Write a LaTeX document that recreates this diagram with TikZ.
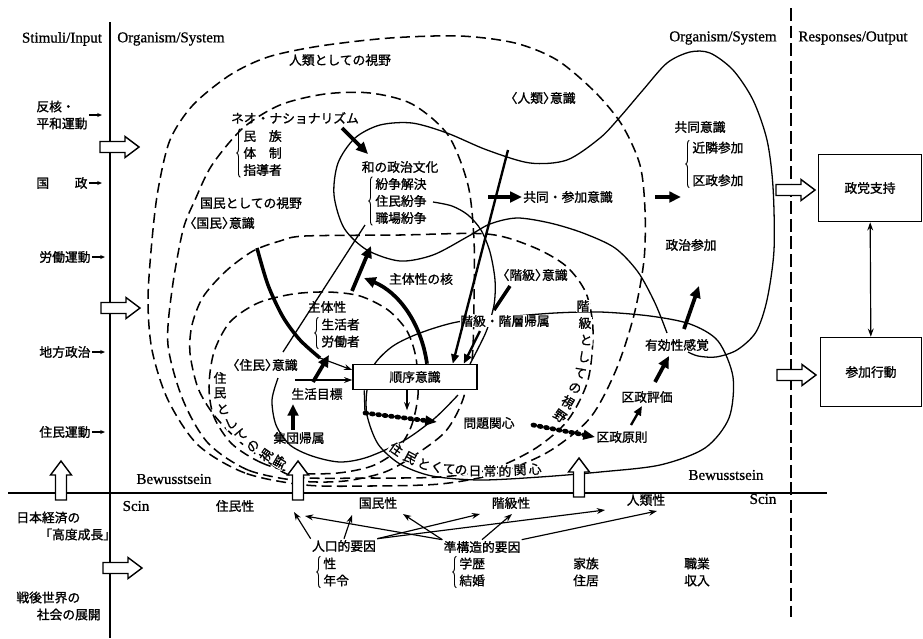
\documentclass[tikz,border=0pt]{standalone}
\usepackage{fontspec}
\setmainfont{Liberation Serif}
\newfontfamily\jp[FakeBold=1.2]{Noto Sans CJK JP}
\newfontfamily\enfont[FakeBold=0.8]{Liberation Serif}
\usetikzlibrary{arrows.meta, calc, decorations.pathreplacing}

\newcommand\jpf{\jp\fontsize{10.9}{14.5}\selectfont}
\newcommand\enf{\enfont\fontsize{12.8}{15}\selectfont}
% narrow brackets
\newcommand\ab[1]{\makebox[0.55em][r]{〈}#1\makebox[0.55em][l]{〉}}
\newcommand\kg[1]{\makebox[0.5em][r]{「}#1\makebox[0.5em][l]{」}}

\begin{document}
\begin{tikzpicture}[
	x=0.03cm, y=-0.03cm,
	lbl/.style={font=\jpf, inner sep=1pt},
	wlbl/.style={lbl, fill=white, inner sep=0.3pt},
	en/.style={font=\enf, inner sep=1pt},
	box/.style={draw, line width=1.3pt, fill=white, font=\jpf},
	brc/.style={decorate, decoration={brace, amplitude=3pt}, line width=0.8pt},
	curve/.style={line width=1.1pt},
	dcurve/.style={line width=1.3pt, dash pattern=on 8.5pt off 4.5pt},
	axis/.style={line width=1.6pt},
	sepline/.style={line width=2.4pt, dash pattern=on 11pt off 4pt},
	bigarrow/.style={line width=3.2pt, -{Triangle[length=10pt,width=9pt]}},
	midarrow/.style={line width=2pt, -{Triangle[length=8pt,width=6.5pt]}},
	thinarrow/.style={line width=1pt, -{Stealth[length=7pt,width=5pt]}},
	stimarrow/.style={line width=0.9pt, -{Stealth[length=4pt,width=3.5pt]}},
	dotarrow/.style={line width=4pt, line cap=round, dash pattern=on 1.5pt off 4pt, -{Triangle[length=10pt,width=8pt]}},
	hollow/.pic={
		\draw[line width=1.2pt, fill=white] (0,-5.5) -- (25,-5.5) -- (25,-10.5) -- (39,0)
			-- (25,10.5) -- (25,5.5) -- (0,5.5) -- cycle;
	}
	]
	\useasboundingbox (0,0) rectangle (923,638);

	% axes
	\coordinate (axtop) at (110,22);
	\coordinate (axbot) at (110,638);
	\coordinate (hleft) at (8,493);
	\coordinate (hright) at (827,493);
	\coordinate (septop) at (791,8);
	\coordinate (sepbot) at (791,617);
	\draw[axis] (axtop) -- (axbot);
	\draw[axis] (hleft) -- (hright);
	\draw[sepline] (septop) -- (sepbot);

	\node[en] (stimuli) at (62,39) {Stimuli/Input};
	\node[en] (orgleft) at (171,39) {Organism/System};
	\node[en] (orgright) at (723,38) {Organism/System};
	\node[en] (responses) at (853,38) {Responses/Output};
	\node[en] (bewleft) at (174,479) {Bewusstsein};
	\node[en] (scinleft) at (136,506) {Scin};
	\node[en] (bewright) at (726,475) {Bewusstsein};
	\node[en] (scinright) at (763,499) {Scin};

	% stimuli
	\node[lbl, anchor=west, align=left] (hankaku) at (35,115) {反核・\\平和運動};
	\node[lbl, anchor=west] (kokusei) at (35,183) {国　　政};
	\node[lbl, anchor=west] (rodo) at (38,257) {労働運動};
	\node[lbl, anchor=west] (chiho) at (38,352) {地方政治};
	\node[lbl, anchor=west] (juminundo) at (38,432) {住民運動};
	\node[lbl, anchor=west, align=left] (keizai) at (15,526) {日本経済の\\\hspace*{2.3em}\kg{高度成長}};
	\node[lbl, anchor=west, align=left] (sengo) at (15,606) {戦後世界の\\\hspace*{1.6em}社会の展開};
	\foreach \n in {hankaku, kokusei, rodo, chiho, juminundo}
		\draw[stimarrow] (\n.east) -- ++(13,0);

	% dashed fields of view
	\draw[dcurve] plot[smooth cycle] coordinates {(305,485) (245,473) (198,445) (168,400) (152,350) (148,300) (152,240) (158,190) (170,140) (193,105) (230,75) (268,57) (320,46) (390,38) (460,36) (515,43) (557,60) (595,92) (622,125) (640,165) (645,210) (644,260) (634,315) (616,370) (590,418) (548,452) (495,474) (440,484) (370,486)};
	\draw[dcurve] plot[smooth cycle] coordinates {(300,481) (248,470) (208,443) (183,400) (168,345) (172,290) (183,230) (195,200) (212,165) (243,128) (280,105) (325,94) (370,93) (412,104) (448,135) (468,185) (474,240) (474,300) (472,360) (462,402) (445,432) (415,455) (385,472) (345,481)};
	\draw[dcurve] plot[smooth cycle] coordinates {(297,477) (268,462) (240,442) (214,415) (198,388) (190,353) (192,325) (203,297) (226,271) (253,251) (280,241) (305,236) (400,235) (487,234) (533,247) (566,266) (586,293) (593,330) (588,380) (568,420) (536,448) (492,469) (440,477) (370,478)};
	\draw[dcurve] plot[smooth cycle] coordinates {(298,473) (262,463) (232,444) (214,417) (209,387) (214,352) (230,322) (258,303) (293,294) (328,292) (360,296) (388,310) (407,331) (416,358) (418,395) (411,427) (396,451) (372,466) (338,473)};

	% solid fields
	\draw[curve] plot[smooth] coordinates {(667,333) (655,303) (638,272) (615,248) (583,233) (550,223) (517,218) (490,224) (467,237) (433,255) (400,261) (367,250) (344,228) (334,195) (338,163) (355,138) (380,125) (412,123) (447,133) (487,150) (530,163) (567,160) (600,138) (620,117) (643,90) (667,63) (690,52) (710,53) (733,70) (753,100) (767,140) (773,187) (774,250) (767,300) (756,332) (737,350) (716,357) (698,356) (688,352)};
	\draw[curve] plot[smooth cycle] coordinates {(555,313) (600,312) (650,316) (690,324) (718,341) (733,377) (729,418) (705,448) (660,465) (600,472) (540,477) (480,480) (432,476) (400,464) (378,444) (367,415) (367,390) (374,365) (393,346) (420,333) (457,322) (505,317)};
	\draw[curve] plot[smooth] coordinates {(278,378) (272,400) (276,425) (290,445) (312,456) (340,462) (368,457) (405,440) (435,418) (458,395)};
	\draw[curve] plot[smooth] coordinates {(433,202) (452,206) (468,215) (481,230) (490,252) (495,280) (494,305) (486,332) (470,364)};
	\coordinate (tla) at (283,352);
	\coordinate (tlb) at (365,225);
	\draw[curve] (tla) -- (tlb);
	\draw[line width=3pt] plot[smooth] coordinates {(257,248) (268,285) (283,317) (300,340) (320,358)};

	% labels
	\node[lbl] (jinruiview) at (340,60) {人類としての視野};
	\node[lbl] (neo) at (295,118) {ネオ・ナショナリズム};
	\node[lbl, anchor=west, align=left] (minzoku) at (242,153) {民　族\\体　制\\指導者};
	\node[lbl] (kokuminview) at (251,203) {国民としての視野};
	\node[lbl] (kokuminishiki) at (222,223) {\ab{国民}意識};
	\node[lbl] (wa) at (400,167) {和の政治文化};
	\node[lbl, anchor=west, align=left] (funso) at (374,201) {紛争解決\\住民紛争\\職場紛争};
	\node[lbl] (jinruiishiki) at (543,98) {\ab{人類}意識};
	\node[lbl] (kyodosanka) at (568,197) {共同・参加意識};
	\node[lbl] (kaikyuishiki) at (535,275) {\ab{階級}意識};
	\node[lbl] (kaku) at (421,279) {主体性の核};
	\node[lbl] (kyodo) at (700,127) {共同意識};
	\node[lbl, anchor=west, align=left] (kinrin) at (691,164) {近隣参加\\[13.5pt]区政参加};
	\node[lbl] (seijisanka) at (691,245) {政治参加};
	\node[lbl] (yuko) at (677,345) {有効性感覚};
	\node[lbl] (hyoka) at (647,397) {区政評価};
	\node[lbl] (gensoku) at (622,437) {区政原則};
	\node[lbl] (mondai) at (489,423) {問題関心};
	\node[lbl] (shutaisei) at (327,307) {主体性};
	\node[lbl, anchor=west, align=left] (seikatsusha) at (320,333) {生活者\\労働者};
	\node[lbl] (juminishiki) at (265,365) {\ab{住民}意識};
	\node[lbl] (mokuhyo) at (317,394) {生活目標};
	\node[lbl] (shudan) at (299,438) {集団帰属};
	\node[wlbl] (kaikyukizoku) at (505,321) {階級・階層帰属};

	\foreach \c/\x/\y/\r [count=\i] in {住/220/378/0, 民/220/393/0, と/223/409/10, し/231/423/25, て/241/435/35, の/253/446/50, 視/266/455/55, 野/280/462/60}
		\node[wlbl, rotate=\r] (jv\i) at (\x,\y) {\c};
	\foreach \c/\x/\y/\r [count=\i] in {階/583/306/0, 級/585/323/0, と/586/340/-3, し/584/357/-8, て/580/373/-15, の/575/388/-22, 視/568/402/-30, 野/560/416/-35}
		\node[wlbl, rotate=\r] (kv\i) at (\x,\y) {\c};
	\foreach \c/\x/\y/\r [count=\i] in {住/396/449/-35, 民/410/458/-28, と/424/464/-20, く/437/467/-12, て/449/469/-6, の/461/470/-2, 日/475/471/0, 常/490/471/0, 的/505/471/0, 関/520/470/3, 心/535/469/5}
		\node[wlbl, rotate=\r] (nv\i) at (\x,\y) {\c};

	% bottom: factors
	\node[lbl] (juminsei) at (235,506) {住民性};
	\node[lbl] (kokuminsei) at (378,503) {国民性};
	\node[lbl] (kaikyusei) at (511,503) {階級性};
	\node[lbl] (jinruisei) at (646,500) {人類性};
	\node[lbl] (jinko) at (344,546) {人口的要因};
	\node[lbl] (junkozo) at (482,547) {準構造的要因};
	\node[lbl, anchor=west, align=left] (sei) at (322,572) {性\\年令};
	\node[lbl, anchor=west, align=left] (gakureki) at (458,572) {学歴\\結婚};
	\node[lbl, align=left] (kazoku) at (586,572) {家族\\住居};
	\node[lbl, align=left] (shokugyo) at (697,572) {職業\\収入};

	% braces
	\foreach \n in {minzoku, funso, kinrin, seikatsusha, sei, gakureki}
		\draw[brc] ([xshift=-1.5pt]\n.south west) -- ([xshift=-1.5pt]\n.north west);

	\coordinate (fa) at (294,512);
	\coordinate (fb) at (352,515);
	\coordinate (fc) at (480,514);
	\coordinate (fd) at (605,510);
	\coordinate (fe) at (305,516);
	\coordinate (ff) at (403,514);
	\coordinate (fg) at (512,514);
	\coordinate (fh) at (657,511);
	\draw[thinarrow] (jinko.north west) -- (fa);
	\draw[thinarrow] (jinko.north) -- (fb);
	\draw[thinarrow] (jinko.north east) -- (fc);
	\draw[thinarrow] (jinko.north east) -- (fd);
	\draw[thinarrow] (junkozo.north west) -- (fe);
	\draw[thinarrow] (junkozo.north west) -- (ff);
	\draw[thinarrow] (junkozo.north) -- (fg);
	\draw[thinarrow] (junkozo.north east) -- (fh);

	% boxes
	\node[box, minimum width=3.72cm, minimum height=0.75cm] (junjo) at (415,377) {順序意識};
	\node[box, minimum width=3.09cm, minimum height=2.01cm] (seitoshiji) at (870,188) {政党支持};
	\node[box, minimum width=3.03cm, minimum height=2.07cm] (sankakodo) at (871,372) {参加行動};
	\draw[line width=1pt, {Stealth[length=7pt,width=5pt]}-{Stealth[length=7pt,width=5pt]}] (seitoshiji) -- (sankakodo);

	% thick arrows
	\coordinate (neotail) at (342,128);
	\coordinate (neohead) at (368,154);
	\draw[bigarrow] (neotail) -- (neohead);
	\coordinate (kakutail) at (352,291);
	\coordinate (kakuhead) at (371,246);
	\draw[bigarrow] (kakutail) -- (kakuhead);
	\coordinate (kakuhead2) at (364,278);
	\draw[bigarrow] ($(junjo.north)+(12,0)$) .. controls (421,322) and (398,292) .. (kakuhead2);
	\coordinate (kstail) at (488,197);
	\draw[bigarrow] (kstail) -- (kyodosanka);
	\coordinate (kytail) at (655,197);
	\coordinate (kyhead) at (681,197);
	\draw[bigarrow] (kytail) -- (kyhead);
	\coordinate (yutail) at (684,329);
	\coordinate (yuhead) at (699,286);
	\draw[bigarrow] (yutail) -- (yuhead);
	\coordinate (hytail) at (655,382);
	\coordinate (hyhead) at (669,356);
	\draw[bigarrow] (hytail) -- (hyhead);
	\coordinate (gntail) at (631,425);
	\coordinate (gnhead) at (642,406);
	\draw[midarrow] (gntail) -- (gnhead);
	\coordinate (shtail) at (293,430);
	\coordinate (shhead) at (293,404);
	\draw[bigarrow] (shtail) -- (shhead);
	\coordinate (mktail) at (313,382);
	\coordinate (mkhead) at (329,355);
	\draw[bigarrow] (mktail) -- (mkhead);
	\coordinate (mkline) at (295,380);
	\draw[thinarrow] (mkline) -- (junjo.west |- mkline);
	\coordinate (kmend) at (320,358);
	\draw[thinarrow] (kmend) -- ($(junjo.west)+(0,-7)$);
	\coordinate (longtail) at (508,150);
	\draw[midarrow] (longtail) -- ($(junjo.north east)+(-25,0)$);
	\coordinate (kktail) at (480,331);
	\draw[midarrow] (kktail) -- ($(junjo.north east)+(-14,0)$);
	\coordinate (kaitail) at (510,286);
	\coordinate (kaihead) at (494,310);
	\draw[line width=3pt] (kaitail) -- (kaihead);
	\coordinate (jjdown) at (365,413);
	\draw[curve] ($(junjo.south west)+(12,0)$) -- (jjdown);
	\draw[thinarrow] ($(junjo.south)+(-8,0)$) -- ++(0,20);
	\coordinate (dotend) at (437,422);
	\draw[dotarrow] (jjdown) -- (dotend);
	\coordinate (dottail) at (533,425);
	\draw[dotarrow] (dottail) -- (gensoku.west);

	% hollow arrows
	\pic at (100,147) {hollow};
	\pic at (101,308) {hollow};
	\pic at (103,568) {hollow};
	\pic[rotate=90] at (61,500) {hollow};
	\pic[rotate=90] at (298,500) {hollow};
	\pic[rotate=90] at (579,497) {hollow};
	\pic at (776,190) {hollow};
	\pic at (777,375) {hollow};
\end{tikzpicture}
\end{document}
